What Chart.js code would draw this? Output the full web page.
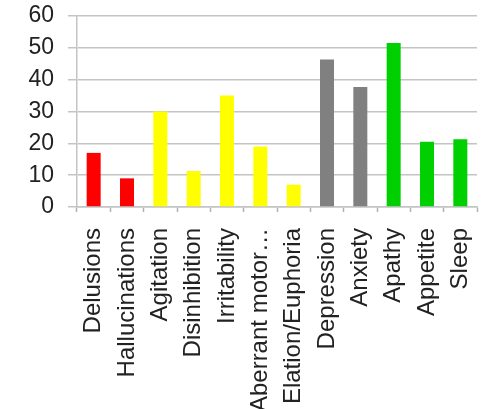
<!DOCTYPE html>
<html>
<head>
<meta charset="utf-8">
<script src="https://cdn.jsdelivr.net/npm/chart.js@4"></script>
<style>
  html, body { margin: 0; padding: 0; background: #fff; }
  #wrap { width: 481px; height: 409px; }
</style>
</head>
<body>
<div id="wrap"><canvas id="c" width="481" height="409"></canvas></div>
<script>
// Neuropsychiatric symptom frequencies
const categories = ['Delusions', 'Hallucinations', 'Agitation', 'Disinhibition', 'Irritability',
  'Aberrant motor\u2026', 'Elation/Euphoria', 'Depression', 'Anxiety', 'Apathy', 'Appetite', 'Sleep'];
const values = [17, 9, 30, 11.3, 35, 19, 7, 46.3, 37.7, 51.5, 20.5, 21.3];
const groups = ['psychotic', 'psychotic', 'hyperactive', 'hyperactive', 'hyperactive', 'hyperactive',
  'hyperactive', 'affective', 'affective', 'apathy', 'apathy', 'apathy'];
const groupColors = { psychotic: '#ff0000', hyperactive: '#ffff00', affective: '#808080', apathy: '#00cf00' };
const yTicks = [0, 10, 20, 30, 40, 50, 60];

const barColors = groups.map(g => groupColors[g]);

new Chart(document.getElementById('c'), {
  type: 'bar',
  data: {
    labels: categories,
    datasets: [{
      data: values,
      backgroundColor: barColors,
      borderWidth: 0,
      barPercentage: 0.42,
      categoryPercentage: 1.0
    }]
  },
  options: {
    responsive: false,
    animation: false,
    devicePixelRatio: 1,
    layout: { padding: { top: 16, right: 4, left: 0, bottom: 0 } },
    plugins: { legend: { display: false }, tooltip: { enabled: false } },
    scales: {
      x: {
        offset: true,
        grid: {
          offset: true,
          drawOnChartArea: false,
          drawTicks: true,
          tickLength: 5,
          tickColor: '#b0b0b0',
          tickWidth: 1.5
        },
        border: { display: true, color: '#c4c4c4', width: 1.5 },
        ticks: {
          minRotation: 90,
          maxRotation: 90,
          autoSkip: false,
          padding: 16,
          color: '#222',
          font: { family: 'Liberation Sans, Arial, sans-serif', size: 24 }
        },
        afterFit(scale) {
          scale.height = 202;
          scale.paddingTop = 0;
          scale.paddingBottom = 0;
          scale.paddingLeft = 0;
          scale.paddingRight = 0;
        }
      },
      y: {
        min: 0,
        max: 60,
        afterBuildTicks(scale) { scale.ticks = yTicks.map(v => ({ value: v })); },
        grid: {
          color: '#c4c4c4',
          lineWidth: 1.5,
          drawTicks: true,
          tickLength: 9,
          tickColor: '#c4c4c4'
        },
        border: { display: true, color: '#c4c4c4', width: 1.5 },
        ticks: {
          autoSkip: false,
          padding: 14,
          color: '#222',
          font: { family: 'Liberation Sans, Arial, sans-serif', size: 23 }
        },
        afterFit(scale) {
          scale.width = 77;
          scale.paddingTop = 0;
          scale.paddingBottom = 0;
        }
      }
    }
  }
});
</script>
</body>
</html>
